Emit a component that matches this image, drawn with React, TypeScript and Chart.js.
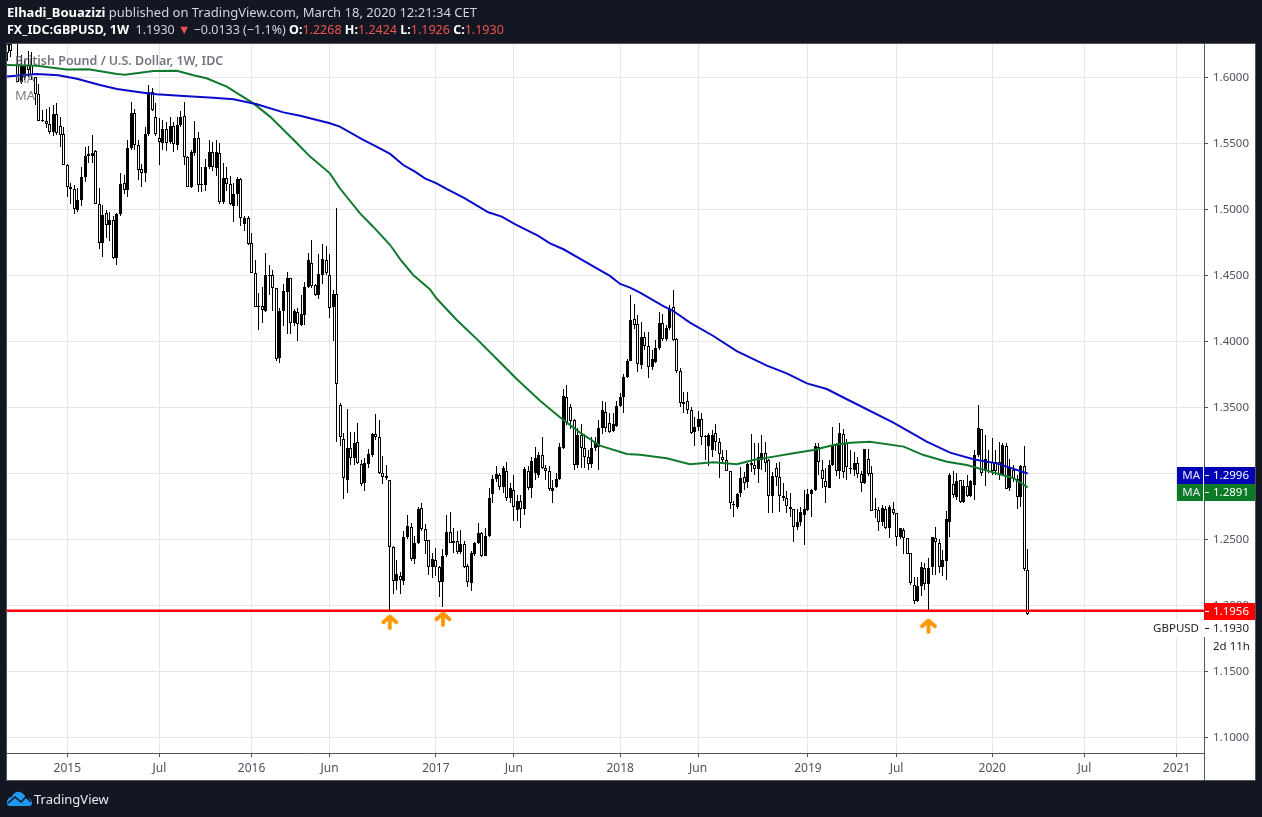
import React, { useEffect, useRef } from "react";
import { Chart, registerables, BarElement } from "chart.js";

Chart.register(...registerables);

const opens = [
1.625,1.625,1.63,1.609,1.5965,1.6,1.609,1.609,1.6,1.587,
1.567,1.567,1.5645,1.558,1.572,1.563,1.557,1.533,1.5165,1.515,
1.499,1.5065,1.524,1.54,1.5405,1.544,1.504,1.474,1.497,1.488,
1.4915,1.463,1.4965,1.5195,1.5145,1.546,1.573,1.5485,1.53,1.527,
1.5565,1.589,1.57,1.5535,1.55,1.5605,1.551,1.563,1.5485,1.564,
1.5705,1.5395,1.517,1.5425,1.5535,1.518,1.518,1.532,1.5435,1.531,
1.5425,1.5055,1.5235,1.519,1.5025,1.5115,1.5225,1.489,1.4935,1.4742,
1.4513,1.4255,1.4262,1.423,1.45,1.45,1.44,1.387,1.423,1.4375,
1.4477,1.4137,1.4217,1.4125,1.42,1.4407,1.459,1.4425,1.435,1.45,
1.4613,1.45,1.4255,1.4356,1.3515,1.3255,1.295,1.3187,1.311,1.3235,
1.3068,1.2925,1.3065,1.3137,1.3293,1.327,1.2998,1.2965,1.2947,1.2437,
1.2185,1.2222,1.2185,1.2513,1.2593,1.2346,1.2472,1.2732,1.2573,1.2492,
1.229,1.234,1.2286,1.2177,1.2379,1.2551,1.2472,1.2488,1.2404,1.2462,
1.2295,1.2165,1.2387,1.2472,1.2543,1.2374,1.2523,1.2841,1.2952,1.2985,
1.2892,1.3015,1.2808,1.2871,1.2722,1.2788,1.2725,1.3015,1.2884,1.2998,
1.2985,1.3136,1.3035,1.3015,1.2866,1.2897,1.2952,1.3192,1.3578,1.3497,
1.3402,1.3061,1.3288,1.3187,1.3124,1.3068,1.3187,1.3195,1.3338,1.346,
1.3381,1.3321,1.3356,1.3508,1.3573,1.3725,1.3851,1.4164,1.4126,1.3818,
1.4028,1.3965,1.38,1.3843,1.3944,1.4139,1.4015,1.4096,1.4255,1.4013,
1.3775,1.3523,1.3548,1.3477,1.3313,1.3346,1.3407,1.328,1.3207,1.3175,
1.3306,1.3238,1.3124,1.3099,1.3015,1.2765,1.274,1.2846,1.2973,1.2929,
1.3073,1.3061,1.3033,1.3099,1.3154,1.3099,1.2828,1.3035,1.2972,1.2829,
1.2813,1.2745,1.2725,1.2588,1.2631,1.2682,1.2722,1.2838,1.2871,1.32,
1.3023,1.2939,1.2889,1.3061,1.3212,1.3018,1.3293,1.3225,1.3035,1.3023,
1.3078,1.2992,1.2927,1.3104,1.2998,1.2725,1.272,1.2631,1.2725,1.2586,
1.2725,1.2694,1.2518,1.2568,1.2505,1.2392,1.2152,1.2031,1.2147,1.2283,
1.2157,1.2291,1.2505,1.2472,1.2291,1.2336,1.2626,1.2914,1.2821,1.2947,
1.2783,1.2901,1.2828,1.2911,1.3136,1.3333,1.3015,1.3086,1.3086,1.3086,
1.3086,1.2985,1.3205,1.2884,1.3023,1.2952,1.2816,1.3053,1.2268,
];

const highs = [
1.64,1.64,1.64,1.626,1.617,1.613,1.62,1.619,1.6,1.595,
1.575,1.576,1.5775,1.579,1.58,1.57,1.562,1.534,1.52,1.518,
1.516,1.532,1.547,1.548,1.556,1.545,1.516,1.503,1.499,1.498,
1.4945,1.497,1.527,1.526,1.552,1.581,1.576,1.552,1.534,1.562,
1.594,1.5915,1.58,1.569,1.5675,1.566,1.57,1.566,1.57,1.574,
1.581,1.5405,1.545,1.5665,1.5585,1.532,1.538,1.552,1.551,1.552,
1.55,1.535,1.532,1.525,1.52,1.5245,1.5235,1.495,1.495,1.4818,
1.461,1.4365,1.441,1.4665,1.4575,1.454,1.44,1.425,1.443,1.452,
1.448,1.424,1.425,1.435,1.445,1.4667,1.4765,1.4435,1.466,1.4735,
1.472,1.466,1.4386,1.5007,1.3533,1.33,1.3483,1.331,1.331,1.3376,
1.31,1.311,1.318,1.33,1.3447,1.34,1.3127,1.306,1.295,1.2445,
1.2341,1.225,1.256,1.2682,1.262,1.2525,1.274,1.2775,1.261,1.2495,
1.2392,1.2434,1.2295,1.2422,1.268,1.2707,1.2586,1.256,1.2568,1.2482,
1.231,1.2412,1.2478,1.2619,1.2551,1.2581,1.2888,1.2985,1.3053,1.3,
1.3053,1.308,1.2925,1.2985,1.2835,1.2835,1.3048,1.305,1.3124,1.32,
1.3162,1.327,1.306,1.305,1.2947,1.3,1.323,1.3637,1.3667,1.352,
1.3407,1.334,1.3372,1.3295,1.3175,1.327,1.3275,1.34,1.3548,1.354,
1.3455,1.3455,1.3548,1.3604,1.3748,1.3865,1.4348,1.428,1.42,1.4146,
1.407,1.407,1.3932,1.4008,1.4222,1.4205,1.412,1.4273,1.4386,1.402,
1.3793,1.3616,1.3617,1.35,1.3427,1.3472,1.3457,1.3285,1.33,1.3325,
1.3372,1.3263,1.3175,1.3175,1.3018,1.279,1.2846,1.3043,1.301,1.3075,
1.3295,1.3225,1.3225,1.3288,1.3238,1.3105,1.3005,1.3075,1.3085,1.2927,
1.2866,1.2846,1.2727,1.2725,1.274,1.2872,1.2876,1.2876,1.323,1.3225,
1.3099,1.3035,1.31,1.3351,1.3225,1.3381,1.3331,1.3255,1.3175,1.316,
1.3124,1.3018,1.3185,1.3179,1.305,1.2814,1.2745,1.2758,1.2748,1.2755,
1.2783,1.2695,1.2586,1.2581,1.2505,1.2392,1.2215,1.2215,1.2325,1.2316,
1.2354,1.2513,1.2594,1.25,1.2417,1.2712,1.3,1.3018,1.3,1.2947,
1.2947,1.2985,1.2947,1.3174,1.3515,1.3333,1.3288,1.3175,1.3263,1.3175,
1.3235,1.3225,1.3225,1.3104,1.3061,1.2985,1.3061,1.3205,1.2424,
];

const lows = [
1.612,1.6154,1.625,1.596,1.595,1.598,1.6,1.598,1.579,1.567,
1.566,1.561,1.557,1.555,1.556,1.547,1.533,1.509,1.504,1.496,
1.498,1.502,1.5205,1.535,1.5345,1.504,1.47,1.464,1.478,1.476,
1.4625,1.4575,1.495,1.511,1.509,1.545,1.545,1.522,1.517,1.5205,
1.555,1.574,1.555,1.533,1.545,1.544,1.549,1.543,1.5445,1.562,
1.533,1.5165,1.516,1.54,1.513,1.513,1.514,1.53,1.529,1.525,
1.5035,1.5035,1.514,1.503,1.49,1.502,1.4875,1.483,1.4725,1.4513,
1.4255,1.408,1.414,1.422,1.4345,1.423,1.3846,1.383,1.4115,1.405,
1.405,1.4115,1.4,1.4115,1.4125,1.44,1.44,1.434,1.432,1.4432,
1.45,1.4175,1.4,1.3237,1.3205,1.28,1.2845,1.306,1.306,1.3065,
1.2905,1.2866,1.3035,1.3125,1.325,1.2995,1.2917,1.2945,1.1956,1.2084,
1.2115,1.2084,1.2155,1.25,1.2335,1.231,1.2465,1.256,1.2384,1.2227,
1.2202,1.2222,1.2058,1.1988,1.2365,1.2468,1.2395,1.2384,1.2385,1.228,
1.2134,1.2109,1.2375,1.2465,1.2365,1.237,1.2515,1.2775,1.2935,1.2875,
1.285,1.2785,1.2775,1.2639,1.2635,1.2586,1.2682,1.287,1.2813,1.295,
1.2965,1.303,1.295,1.2865,1.2775,1.2885,1.2945,1.318,1.336,1.333,
1.3025,1.3035,1.3035,1.3035,1.3025,1.3035,1.317,1.3025,1.3293,1.331,
1.33,1.3311,1.3345,1.35,1.3457,1.372,1.385,1.409,1.3768,1.379,
1.393,1.3717,1.378,1.383,1.393,1.4,1.4,1.408,1.4,1.3755,
1.3497,1.3457,1.3447,1.3295,1.3207,1.332,1.3212,1.3099,1.3053,1.3125,
1.3165,1.296,1.3085,1.3015,1.2725,1.2664,1.2725,1.2815,1.2875,1.2885,
1.3005,1.2985,1.2922,1.3025,1.3005,1.2695,1.2695,1.29,1.2707,1.2785,
1.27,1.2665,1.248,1.2566,1.26,1.2455,1.2712,1.2669,1.2865,1.2985,
1.2885,1.2775,1.2885,1.3055,1.298,1.2952,1.2965,1.2945,1.2992,1.2978,
1.2965,1.2859,1.292,1.298,1.2712,1.266,1.2563,1.26,1.2574,1.2505,
1.268,1.2445,1.25,1.2387,1.2385,1.2151,1.2005,1.2025,1.2068,1.2115,
1.1958,1.2227,1.2225,1.2245,1.222,1.2189,1.2518,1.2813,1.2793,1.2775,
1.2775,1.2818,1.2815,1.2795,1.3124,1.2977,1.2902,1.3,1.2985,1.2985,
1.2945,1.2985,1.2876,1.2865,1.2935,1.2725,1.2745,1.226,1.1926,
];

const closes = [
1.618,1.62,1.628,1.5965,1.608,1.609,1.605,1.6015,1.5875,1.567,
1.5675,1.5645,1.558,1.572,1.5575,1.556,1.533,1.5165,1.515,1.5,
1.507,1.5245,1.54,1.542,1.5425,1.504,1.474,1.4955,1.488,1.492,
1.463,1.496,1.519,1.5145,1.546,1.573,1.5485,1.5295,1.527,1.5565,
1.589,1.575,1.557,1.551,1.5605,1.55,1.563,1.549,1.564,1.57,
1.5395,1.517,1.5435,1.5535,1.518,1.519,1.532,1.5435,1.532,1.543,
1.505,1.5235,1.5187,1.5035,1.5115,1.5225,1.493,1.493,1.4735,1.4513,
1.4255,1.4262,1.4235,1.45,1.4495,1.44,1.3864,1.423,1.438,1.4477,
1.4137,1.4225,1.413,1.4205,1.4412,1.461,1.4415,1.435,1.4508,1.4622,
1.4513,1.425,1.4356,1.3675,1.327,1.296,1.3187,1.311,1.323,1.3073,
1.2917,1.3073,1.3142,1.3293,1.327,1.3,1.2967,1.298,1.2437,1.2185,
1.2232,1.219,1.2513,1.2598,1.2346,1.2472,1.2727,1.2573,1.2487,1.229,
1.2346,1.2286,1.2177,1.2374,1.2551,1.2472,1.2488,1.2404,1.2462,1.229,
1.2172,1.2392,1.2467,1.2543,1.2374,1.2523,1.2808,1.2955,1.299,1.2892,
1.3035,1.2808,1.2884,1.274,1.2788,1.2725,1.303,1.2884,1.3091,1.3111,
1.3136,1.3035,1.3015,1.2876,1.2884,1.2955,1.3194,1.3586,1.3389,1.3397,
1.3061,1.3288,1.3187,1.3124,1.3068,1.3187,1.3225,1.3338,1.3477,1.3338,
1.3313,1.3371,1.3508,1.3578,1.3725,1.3849,1.4159,1.4121,1.3823,1.4033,
1.3965,1.38,1.3861,1.3944,1.4134,1.4013,1.4096,1.4247,1.4008,1.3775,
1.3528,1.354,1.3477,1.3306,1.3346,1.3407,1.3275,1.3275,1.3288,1.3288,
1.3233,1.3142,1.3099,1.3018,1.277,1.2757,1.2838,1.296,1.2922,1.3068,
1.3061,1.3033,1.3124,1.3149,1.3073,1.2828,1.2977,1.2972,1.2826,1.2808,
1.275,1.2725,1.2588,1.2631,1.2702,1.2725,1.2838,1.2871,1.3205,1.3086,
1.2953,1.2891,1.3061,1.3212,1.3018,1.33,1.301,1.3048,1.3035,1.3073,
1.2992,1.2922,1.3179,1.2992,1.2715,1.2722,1.2631,1.2732,1.2586,1.2745,
1.2694,1.2518,1.2581,1.2505,1.2387,1.2164,1.2031,1.2147,1.2291,1.2157,
1.2283,1.2513,1.248,1.2291,1.2341,1.2649,1.2985,1.2833,1.294,1.2778,
1.2901,1.2828,1.2939,1.3136,1.3338,1.3003,1.3104,1.3073,1.3018,1.3015,
1.2985,1.3212,1.2876,1.3035,1.2952,1.2816,1.3053,1.2273,1.193,
];

const greenWeeks = [0,8.4,16.8,23,31,33.3,41.3,47.9,52.6,56.3,62,69.5,74.2,81.8,85.5,91.1,93.9,99.6,103.3,108.1,110.9,114.6,119.3,121.2,126.9,133,139.1,143.8,150.4,156,161.7,167.3,174.9,178.6,186.1,192.7,199.3,205.9,210.6,216.3,221.9,227.6,233.2,237.9,243.5,253,258.6,265.2,270.8,276.5,284,288];
const greenValues = [1.6091,1.6086,1.6056,1.6058,1.6023,1.6018,1.6045,1.6048,1.6013,1.599,1.5927,1.58,1.57,1.5498,1.5397,1.527,1.5157,1.4967,1.4866,1.4727,1.4621,1.45,1.4392,1.4322,1.4159,1.4003,1.3839,1.3712,1.3548,1.3422,1.3306,1.3207,1.3144,1.3139,1.3111,1.3066,1.3081,1.3066,1.3099,1.3124,1.3149,1.3174,1.3212,1.323,1.3237,1.32,1.3136,1.3086,1.3061,1.3018,1.296,1.2891];
const blueWeeks = [0,8.4,14.5,19.7,26.2,31,38.5,42.2,49.8,58.2,63.9,70.5,78,82.7,91.1,93.9,100.5,103.3,108.1,111.8,115.1,117.9,121.2,124,128.8,135.8,139.6,143.3,149.9,153.2,157,163.1,170.1,173,175.8,178.6,185.2,188,192.7,199.3,205.9,214.4,220,225.7,231.3,237.4,250.1,259.5,266.1,272.7,279.3,288];
const blueValues = [1.6003,1.6023,1.6013,1.5987,1.5939,1.5909,1.5881,1.5869,1.5856,1.5843,1.5831,1.5793,1.5732,1.5707,1.5649,1.5624,1.5523,1.5485,1.5417,1.5333,1.5283,1.5232,1.5194,1.5152,1.5086,1.4975,1.4942,1.4886,1.4796,1.474,1.4695,1.4601,1.4493,1.4432,1.4404,1.4366,1.4265,1.4227,1.4139,1.4038,1.3924,1.3813,1.3755,1.3679,1.3636,1.3553,1.3381,1.3237,1.3154,1.3104,1.3073,1.2996];

const supportLevel = 1.1956;
const arrowWeeks = [108, 123, 260];
const arrowValues = [1.1871, 1.1894, 1.1841];
const xTickWeeks = [17, 43, 69, 91, 121, 143, 173, 195, 226, 251, 278, 304, 330];
const xTickLabels = ["2015", "Jul", "2016", "Jun", "2017", "Jun", "2018", "Jun", "2019", "Jul", "2020", "Jul", "2021"];
const yTicks = [1.1, 1.15, 1.2, 1.25, 1.3, 1.35, 1.4, 1.45, 1.5, 1.55, 1.6];
const blueLabel = 1.2996;
const greenLabel = 1.2891;
const lastPrice = 1.193;

const FONT = '"Noto Sans", sans-serif';
const DARK = "#131722";
const AXIS = "#50535e";
const TEXT = "#4c525e";
const BLUE = "#0a0acb";
const GREEN = "#0f7a2d";
const BLUE_BOX = "#0000b4";
const GREEN_BOX = "#0b7a26";

const origDraw = BarElement.prototype.draw;
BarElement.prototype.draw = function (this: any, ctx: CanvasRenderingContext2D) {
  this.x = Math.floor(this.x) + 0.5;
  const a = Math.round(this.y);
  const b = Math.round(this.base);
  this.y = a;
  this.base = a === b ? b + 1 : b;
  origDraw.call(this, ctx);
};

function makeArrow() {
  const c = document.createElement("canvas");
  c.width = 18;
  c.height = 16;
  const g = c.getContext("2d")!;
  g.strokeStyle = "#ff9800";
  g.lineWidth = 3.8;
  g.lineCap = "round";
  g.lineJoin = "round";
  g.beginPath();
  g.moveTo(9, 14);
  g.lineTo(9, 2.5);
  g.moveTo(2.5, 8.2);
  g.lineTo(9, 2.5);
  g.lineTo(15.5, 8.2);
  g.stroke();
  return c;
}

const framePlugin = {
  id: "frame",
  beforeDraw(chart: any) {
    const { ctx, chartArea, scales } = chart;
    const right = scales.y.right;
    const bottom = scales.x.bottom;
    ctx.save();
    ctx.fillStyle = DARK;
    ctx.fillRect(0, 0, chart.width, chart.height);
    ctx.fillStyle = "#ffffff";
    ctx.fillRect(chartArea.left, chartArea.top, right - chartArea.left, bottom - chartArea.top);
    ctx.restore();
  },
  afterDraw(chart: any) {
    const { ctx, chartArea, scales } = chart;
    const y = scales.y;
    const right = y.right;
    const bottom = scales.x.bottom;
    const { left, top, right: inner, bottom: base } = chartArea;
    ctx.save();
    ctx.strokeStyle = AXIS;
    ctx.lineWidth = 1;
    ctx.beginPath();
    ctx.moveTo(left, base + 0.5);
    ctx.lineTo(inner + 1, base + 0.5);
    ctx.moveTo(inner + 0.5, top);
    ctx.lineTo(inner + 0.5, bottom);
    ctx.stroke();
    ctx.strokeRect(left - 0.5, top - 0.5, right - left + 1, bottom - top + 1);

    ctx.font = `11.5px ${FONT}`;
    ctx.textBaseline = "middle";
    const box = (value: number, py: number, color: string, maLabel: boolean) => {
      const x0 = maLabel ? inner - 27 : inner;
      ctx.fillStyle = color;
      ctx.fillRect(x0, py - 8, right - x0, 17);
      ctx.fillStyle = "#ffffff";
      ctx.fillRect(inner + 1, py, 4, 1);
      ctx.textAlign = "left";
      ctx.fillText(value.toFixed(4), inner + 9, py + 1);
      if (maLabel) {
        ctx.fillStyle = "#ffffff";
        ctx.fillRect(inner - 1, py - 8, 1, 17);
        ctx.fillStyle = "#e8e8f0";
        ctx.textAlign = "right";
        ctx.fillText("MA", inner - 4, py + 1);
      }
    };
    const blueY = Math.round(y.getPixelForValue(blueLabel)) + 1;
    const supportY = Math.round(y.getPixelForValue(supportLevel));
    box(blueLabel, blueY, BLUE_BOX, true);
    box(greenLabel, blueY + 17, GREEN_BOX, true);
    box(supportLevel, supportY, "#ff0000", false);

    const py = supportY + 17;
    ctx.fillStyle = "#ffffff";
    ctx.fillRect(inner - 46, py - 8, right - inner + 46, 17);
    ctx.fillStyle = "#131722";
    ctx.fillRect(inner + 1, py, 4, 1);
    ctx.fillStyle = "#222222";
    ctx.textAlign = "right";
    ctx.fillText("GBPUSD", inner - 5, py + 1);
    ctx.textAlign = "left";
    ctx.fillText(lastPrice.toFixed(4), inner + 9, py + 1);
    ctx.fillText("2d 11h", inner + 9, py + 19);
    ctx.restore();
  },
};

export default function App() {
  const ref = useRef<HTMLCanvasElement>(null);
  useEffect(() => {
    document.body.style.margin = "0";
    document.body.style.background = DARK;
    const arrow = makeArrow();
    const chart = new Chart(ref.current!, {
      type: "bar",
      plugins: [framePlugin],
      data: {
        datasets: [
          {
            label: "Wicks",
            data: highs.map((h, i) => ({ x: i, y: [lows[i], h] })),
            backgroundColor: "#000000",
            borderWidth: 0,
            inflateAmount: 0,
            barThickness: 1,
            grouped: false,
            order: 6,
          },
          {
            label: "Bodies",
            data: opens.map((o, i) => ({ x: i, y: [o, closes[i]] })),
            backgroundColor: opens.map((o, i) => (closes[i] >= o ? "#000000" : "#ffffff")),
            borderColor: "#000000",
            borderWidth: 1,
            borderSkipped: false,
            inflateAmount: 0,
            barThickness: 3,
            grouped: false,
            order: 5,
          },
          {
            type: "line",
            label: "MA green",
            data: greenWeeks.map((x, i) => ({ x, y: greenValues[i] })),
            borderColor: GREEN,
            borderWidth: 2,
            pointRadius: 0,
            order: 4,
          },
          {
            type: "line",
            label: "MA blue",
            data: blueWeeks.map((x, i) => ({ x, y: blueValues[i] })),
            borderColor: BLUE,
            borderWidth: 2,
            pointRadius: 0,
            order: 3,
          },
          {
            type: "line",
            label: "Support",
            data: [
              { x: -0.02, y: supportLevel },
              { x: 337.75, y: supportLevel },
            ],
            borderColor: "#ff0000",
            borderWidth: 2.5,
            pointRadius: 0,
            order: 2,
          },
          {
            type: "line",
            label: "Arrows",
            data: arrowWeeks.map((x, i) => ({ x, y: arrowValues[i] })),
            showLine: false,
            pointStyle: arrow,
            pointRadius: 9,
            order: 1,
          },
        ] as any,
      },
      options: {
        responsive: false,
        animation: false,
        events: [],
        layout: { autoPadding: false, padding: { left: 7, top: 44, right: 7, bottom: 37 } },
        plugins: { legend: { display: false }, tooltip: { enabled: false } },
        scales: {
          x: {
            type: "linear",
            min: -0.02,
            max: 337.75,
            offset: false,
            grid: { color: "#e6e6e6", offset: false, tickColor: AXIS, tickLength: 4 },
            border: { display: false },
            afterBuildTicks: (s: any) => {
              s.ticks = xTickWeeks.map((value) => ({ value }));
            },
            afterFit: (s: any) => {
              s.height = 27;
              s.paddingLeft = 0;
              s.paddingRight = 0;
            },
            ticks: {
              autoSkip: false,
              maxRotation: 0,
              padding: 4,
              color: TEXT,
              font: { family: FONT, size: 12 },
              callback: (v: any) => xTickLabels[xTickWeeks.indexOf(v)],
            },
          },
          y: {
            position: "right",
            min: 1.08788,
            max: 1.625,
            grid: { color: "#e6e6e6", tickColor: AXIS, tickLength: 4 },
            border: { display: false },
            afterBuildTicks: (s: any) => {
              s.ticks = yTicks.map((value) => ({ value }));
            },
            afterFit: (s: any) => {
              s.width = 51;
              s.paddingTop = 0;
              s.paddingBottom = 0;
            },
            ticks: {
              autoSkip: false,
              padding: 5,
              labelOffset: 1,
              color: TEXT,
              font: { family: FONT, size: 11.5 },
              callback: (v: any) => Number(v).toFixed(4),
            },
          },
        },
      } as any,
    });
    return () => chart.destroy();
  }, []);

  const abs: React.CSSProperties = { position: "absolute", whiteSpace: "pre", fontFamily: FONT };
  const red = { color: "#ef5350" };
  return (
    <div style={{ position: "absolute", left: 0, top: 0, width: 1262, height: 817, background: DARK, overflow: "hidden" }}>
      <canvas ref={ref} width={1262} height={817} style={{ position: "absolute", left: 0, top: 0, display: "block" }} />
      <div style={{ ...abs, left: 7, top: 3, fontSize: 13, lineHeight: "18px", color: "#d1d4dc" }}>
        <b style={{ color: "#ffffff" }}>Elhadi_Bouazizi</b> published on TradingView.com, March 18, 2020 12:21:34 CET
      </div>
      <div style={{ ...abs, left: 7, top: 21, fontSize: 12.5, lineHeight: "18px", color: "#d1d4dc" }}>
        <b style={{ color: "#fff" }}>FX_IDC:GBPUSD, 1W</b>{"  "}1.1930 <span style={red}>▼</span> −0.0133 (−1.1%) <b style={{ color: "#fff" }}>O:</b><span style={red}>1.2268</span> <b style={{ color: "#fff" }}>H:</b><span style={red}>1.2424</span> <b style={{ color: "#fff" }}>L:</b><span style={red}>1.1926</span> <b style={{ color: "#fff" }}>C:</b><span style={red}>1.1930</span>
      </div>
      <div style={{ ...abs, left: 15, top: 52, fontSize: 12.5, lineHeight: "18px", fontWeight: 600, color: "rgba(90,94,105,0.85)" }}>British Pound / U.S. Dollar, 1W, IDC</div>
      <div style={{ ...abs, left: 15, top: 69, fontSize: 13, lineHeight: "18px", color: "rgba(90,94,105,0.8)" }}>MA</div>
      <div style={{ ...abs, left: 15, top: 86, fontSize: 13, lineHeight: "18px", color: "rgba(90,94,105,0.8)" }}>MA</div>
      <svg width="27" height="17" viewBox="0 0 27 17" style={{ position: "absolute", left: 6, top: 790 }}>
        <path d="M1 13 C1 9 3 7 6 7 C7 3 11 1 14 2 C17 3 19 5 20 8 C24 8 26 10 26 13 C26 15 25 16 23 16 L4 16 C2 16 1 15 1 13 Z" fill="#2196f3" />
        <path d="M2 13 L9 7 L15 12 L20 7 L25 12" fill="none" stroke="#131722" strokeWidth="1.6" />
      </svg>
      <div style={{ ...abs, left: 34, top: 789, fontSize: 13, lineHeight: "20px", color: "#e8eaf0" }}>TradingView</div>
    </div>
  );
}
